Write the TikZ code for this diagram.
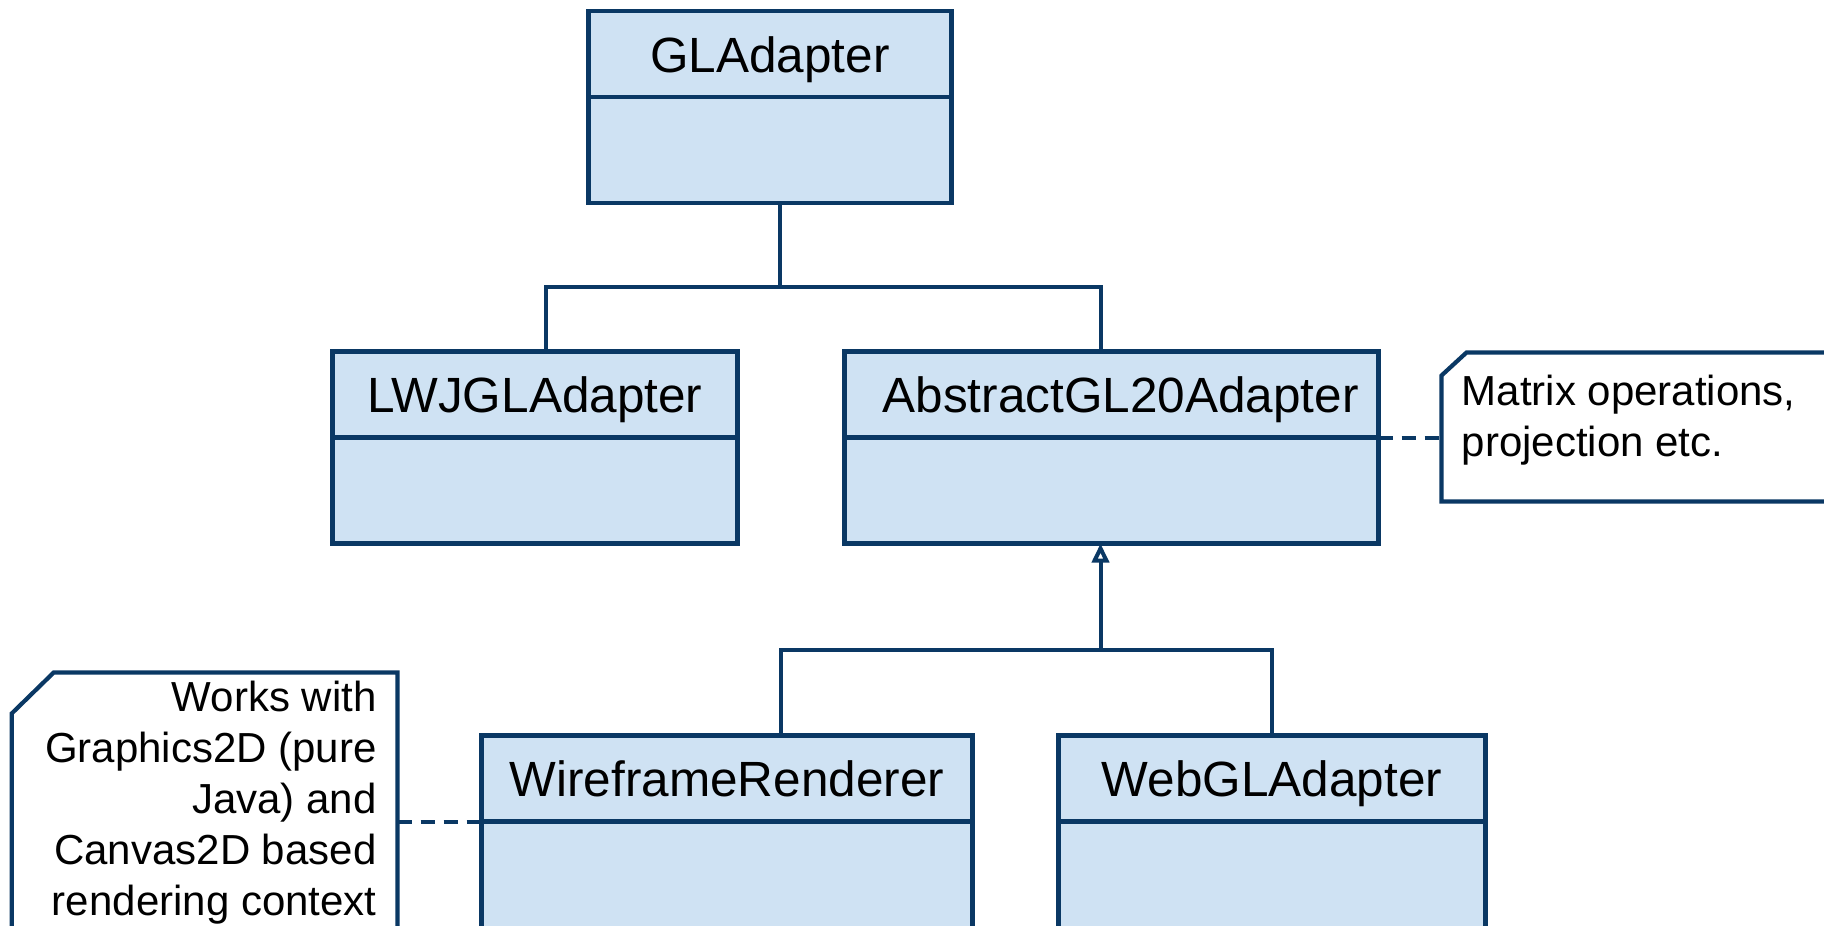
\documentclass[tikz,border=0pt]{standalone}
\usepackage{fontspec}
\setmainfont{Liberation Sans}
\usetikzlibrary{positioning,arrows.meta}

\definecolor{umlblue}{HTML}{0A3864}
\definecolor{umlfill}{HTML}{CFE2F3}

\tikzset{
  umlline/.style={draw=umlblue,line width=4.2pt},
  classname/.style={umlline,fill=umlfill,outer sep=0pt,inner sep=0pt,
    minimum height=86pt,text height=36pt,text depth=0pt,font=\fontsize{49.5}{59}\selectfont},
  classbody/.style={umlline,fill=umlfill,outer sep=0pt,minimum height=106pt},
  notebox/.style={outer sep=0pt,inner sep=0pt},
  noteframe/.style={umlline,fill=white},
  notetext/.style={inner sep=0pt,font=\fontsize{42}{51}\selectfont},
  connector/.style={draw=umlblue,line width=4pt},
  noteline/.style={connector,dash pattern=on 14pt off 9pt},
}

\begin{document}
\begin{tikzpicture}[x=1pt,y=-1pt]
        \useasboundingbox (0,0) rectangle (1824,926) ;
        \clip (0,0) rectangle (1824,926) ;

        % base class
        \node[classname,minimum width=363pt] (glname) at (770,54) {GLAdapter} ;
        \node[classbody,minimum width=363pt,below=0pt of glname] (glbody) {} ;

        % second level
        \node[classname,minimum width=405pt] (lwjglname) at (535,394.5) {LWJGLAdapter} ;
        \node[classbody,minimum width=405pt,below=0pt of lwjglname] (lwjglbody) {} ;
        \node[classname,minimum width=534pt] (absname) at (1111.5,394.5)
          {\hspace*{18pt}AbstractGL20Adapter} ;
        \node[classbody,minimum width=534pt,below=0pt of absname] (absbody) {} ;

        % renderers, running off the bottom
        \node[classname,minimum width=491pt] (wirename) at (727,778.5) {WireframeRenderer} ;
        \node[classbody,minimum width=491pt,minimum height=130pt,below=0pt of wirename] (wirebody) {} ;
        \node[classname,minimum width=427pt] (webglname) at (1272,778.5) {WebGLAdapter} ;
        \node[classbody,minimum width=427pt,minimum height=130pt,below=0pt of webglname] (webglbody) {} ;

        % GLAdapter -> LWJGL / AbstractGL20
        \coordinate (topfork) at (780,287) ;
        \draw[connector] (glbody.south -| topfork) -- (topfork) ;
        \draw[connector] ([xshift=10.6pt]lwjglname.north) |- (topfork)
          -| ([xshift=-11pt]absname.north) ;

        % generalization to AbstractGL20Adapter
        \coordinate (lowfork) at (1100.5,650) ;
        \draw[connector,-{Triangle[open,length=19pt,width=17pt]}] (lowfork)
          -- (absbody.south -| lowfork) ;
        \draw[connector] ([xshift=53.6pt]wirename.north) |- (lowfork) -| (webglname.north) ;

        % notes, top left corner cut off
        \node[notebox,minimum width=458.5pt,minimum height=149pt] (matrixnote) at (1670.75,427) {} ;
        \draw[noteframe] ([yshift=-23pt]matrixnote.north west) -- ([xshift=25pt]matrixnote.north west)
          -- (matrixnote.north east) -- (matrixnote.south east) -- (matrixnote.south west) -- cycle ;
        \node[notetext,anchor=north west,align=left] (matrixtext) at (1461.7,375)
          {Matrix operations,\\projection etc.} ;
        \draw[noteline] (absname.south east) -- (absname.south east -| matrixnote.west) ;

        \node[notebox,minimum width=385.8pt,minimum height=330pt] (worksnote) at (204.6,837.5) {} ;
        \draw[noteframe] ([yshift=-41pt]worksnote.north west) -- ([xshift=42pt]worksnote.north west)
          -- (worksnote.north east) -- (worksnote.south east) -- (worksnote.south west) -- cycle ;
        \node[notetext,anchor=north east,align=right] (workstext) at (376.7,681)
          {Works with\\Graphics2D (pure\\Java) and\\Canvas2D based\\rendering context} ;
        \draw[noteline] (wirename.south west -| worksnote.east) -- (wirename.south west) ;
\end{tikzpicture}
\end{document}
